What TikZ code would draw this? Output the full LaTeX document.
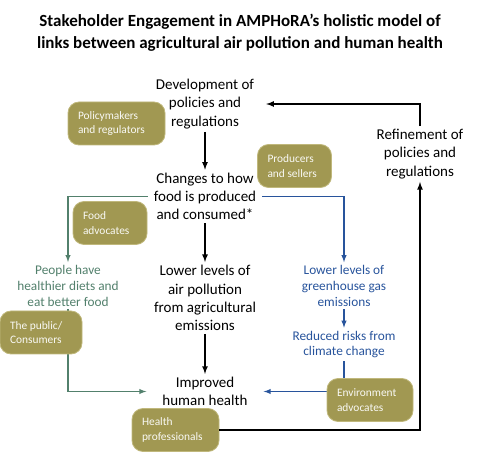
\documentclass[tikz,border=0pt]{standalone}
\usepackage{fontspec}
\setmainfont{Carlito}
\usepackage{tikz}
\usetikzlibrary{positioning}
\definecolor{olivebox}{RGB}{161,152,82}
\definecolor{oliveedge}{RGB}{192,184,124}
\definecolor{dietgreen}{RGB}{82,128,108}
\definecolor{climblue}{RGB}{40,84,156}

\begin{document}
\begin{tikzpicture}[x=1pt, y=-1pt,
  hd/.style={font=\fontsize{17}{21.5}\selectfont\bfseries, align=center},
  main/.style={font=\fontsize{15}{18.3}\selectfont, align=center, inner sep=3pt},
  grn/.style={font=\fontsize{13.3}{15.8}\selectfont, align=center, text=dietgreen, inner sep=3pt},
  blu/.style={grn, text=climblue},
  stake/.style={fill=olivebox, draw=oliveedge, line width=0.8pt, rounded corners=11pt,
                text=white!94!olivebox, font=\fontsize{11.4}{14.3}\selectfont,
                align=flush left, inner xsep=10pt, minimum height=43pt},
  arr/.style={-latex, line width=1.6pt},
  garr/.style={-latex, line width=1.4pt, draw=dietgreen},
  barr/.style={-latex, line width=1.4pt, draw=climblue}
]
\useasboundingbox (0,0) rectangle (480,454);

% ---- titre -------------------------------------------------------------
\node[hd] (title) at (240,33)
  {Stakeholder Engagement in AMPHoRA’s holistic model of\\
   links between agricultural air pollution and human health};

% ---- chaine centrale ---------------------------------------------------
\node[main] (dev) at (205,104) {Development of\\ policies and\\ regulations};
\node[main, inner xsep=6pt] (chg) at (205,196.5) {Changes to how\\ food is produced\\ and consumed*};
\node[main] (air) at (205,298) {Lower levels of\\ air pollution\\ from agricultural\\ emissions};
\node[main, inner xsep=16pt] (imp) at (205,391.5) {Improved\\ human health};
\node[main] (refine) at (420,154) {Refinement of\\ policies and\\ regulations};

% ---- branches ----------------------------------------------------------
\node[grn] (diet) at (68,285.7) {People have\\ healthier diets and\\ eat better food};
\node[blu] (ghg) at (344,285.8) {Lower levels of\\ greenhouse gas\\ emissions};
\node[blu] (clim) at (344,344.5) {Reduced risks from\\ climate change};

% ---- fleches -----------------------------------------------------------
\draw[arr] (dev) -- (chg);
\draw[arr] (chg) -- (air);
\draw[arr] (air) -- (imp);
\draw[arr, shorten >=9pt] (refine.north) |- (dev.east);
\draw[garr] (chg.west) -| (diet.north);
\draw[garr] (diet.south) |- (imp.west);
\draw[barr] (chg.east) -| (ghg.north);
\draw[barr] (ghg) -- (clim);
\draw[barr] (clim.south) |- (imp.east);

% ---- acteurs -----------------------------------------------------------
\node[stake, text width=77pt] (policy) at (116.5,123.5) {Policymakers\\ and regulators};
\node[stake, text width=54pt] (prod) at (294.5,166) {Producers\\ and sellers};
\node[stake, text width=54pt] (food) at (110,223) {Food\\ advocates};
\node[stake, text width=62pt] (public) at (41,332.5) {The public/\\ Consumers};
\node[stake, text width=67pt] (hprof) at (175.5,430) {Health\\ professionals};
\node[stake, text width=66pt] (env) at (370,400) {Environment\\ advocates};

\draw[arr] (hprof.east) -| (refine.south);
\end{tikzpicture}
\end{document}
